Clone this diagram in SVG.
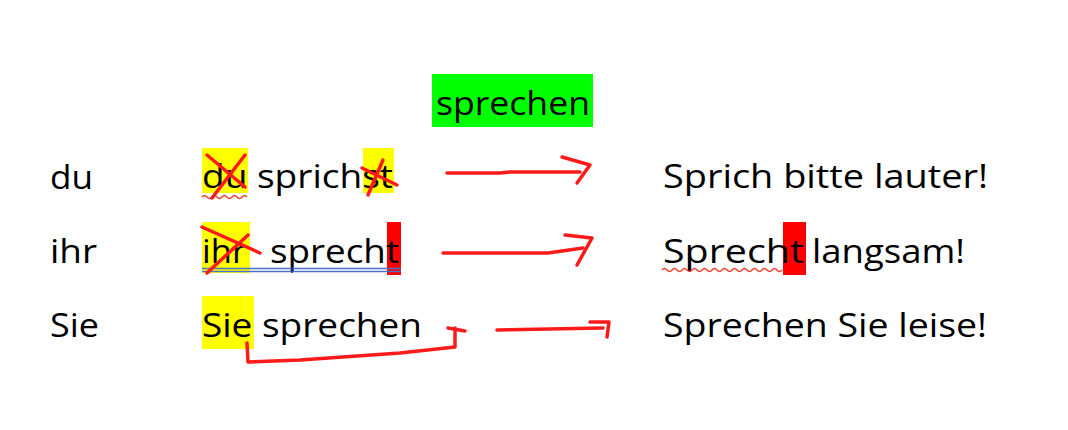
<svg xmlns="http://www.w3.org/2000/svg" width="1068" height="430" viewBox="0 0 1068 430">
<style>
.t{font-family:"Open Sans","Noto Sans",sans-serif;font-size:33px;fill:#000}
.ink{fill:none;stroke:#ff1a1a;stroke-width:3.5;stroke-linecap:round;stroke-linejoin:round}
.wave{fill:none;stroke:#e8402a;stroke-width:1.4}
.ul{stroke:#4a72c8;stroke-width:1.6}
</style>
<rect width="1068" height="430" fill="#fff"/>
<g id="title">
<rect x="432" y="74" width="161" height="53" fill="#00ff00"/>
<text class="t" x="436" y="115" textLength="154" lengthAdjust="spacingAndGlyphs">sprechen</text>
</g>
<g id="pronouns">
<text class="t" x="50" y="189" textLength="43" lengthAdjust="spacingAndGlyphs">du</text>
<text class="t" x="50" y="263" textLength="47" lengthAdjust="spacingAndGlyphs">ihr</text>
<text class="t" x="50" y="337" textLength="49" lengthAdjust="spacingAndGlyphs">Sie</text>
</g>
<g id="row-du">
<rect x="202" y="148" width="46" height="45" fill="#ffff00"/>
<rect x="363" y="148" width="31" height="45" fill="#ffff00"/>
<text class="t" x="202" y="188" textLength="191" lengthAdjust="spacingAndGlyphs">du sprichst</text>
<path class="wave" d="M202,197 q2.5,-3 5,0 t5,0 t5,0 t5,0 t5,0 t5,0 t5,0 t5,0 t5,0"/>
<path class="ink" d="M207,155 L245,187 M245,155 L212,198"/>
<path class="ink" d="M362,168 L397,185 M383,160 L368,195"/>
</g>
<g id="row-ihr">
<rect x="202" y="222" width="48" height="51" fill="#ffff00"/>
<rect x="387" y="222" width="14" height="53" fill="#ff0000"/>
<text class="t" y="263"><tspan x="202" textLength="44" lengthAdjust="spacingAndGlyphs">ihr</tspan><tspan x="270" textLength="129" lengthAdjust="spacingAndGlyphs">sprecht</tspan></text>
<line class="ul" x1="202" y1="268.5" x2="401" y2="268.5"/>
<line class="ul" x1="202" y1="271.5" x2="401" y2="271.5"/>
<line x1="292" y1="267" x2="292" y2="273" stroke="#1a2a80" stroke-width="1.5"/>
<path class="ink" d="M202,227 L260,253 M248,235 L207,273"/>
</g>
<g id="row-Sie">
<rect x="202" y="296" width="52" height="53" fill="#ffff00"/>
<text class="t" x="202" y="337" textLength="220" lengthAdjust="spacingAndGlyphs">Sie sprechen</text>
</g>
<g id="imperatives">
<text class="t" x="663" y="188" textLength="325" lengthAdjust="spacingAndGlyphs">Sprich bitte lauter!</text>
<rect x="783" y="222" width="23" height="53" fill="#ff0000"/>
<text class="t" y="263"><tspan x="663" textLength="141" lengthAdjust="spacingAndGlyphs">Sprecht</tspan><tspan x="812" textLength="153" lengthAdjust="spacingAndGlyphs">langsam!</tspan></text>
<path class="wave" stroke="#e03030" d="M662,270 q2.5,-3 5,0 t5,0 t5,0 t5,0 t5,0 t5,0 t5,0 t5,0 t5,0 t5,0 t5,0 t5,0 t5,0 t5,0 t5,0 t5,0 t5,0 t5,0 t5,0 t5,0 t5,0 t5,0 t5,0 t5,0"/>
<text class="t" x="663" y="337" textLength="324" lengthAdjust="spacingAndGlyphs">Sprechen Sie leise!</text>
</g>
<g id="connectors">
<path class="ink" d="M447,173 L500,173 L510,172 L580,172"/>
<path class="ink" d="M562,157 L590,165 L577,183"/>
<path class="ink" d="M443,253 L548,253 L583,248"/>
<path class="ink" d="M565,235 L592,238 L577,265"/>
<path class="ink" d="M497,330 L603,328"/>
<path class="ink" d="M590,322 L609,322 L607,337"/>
<path class="ink" d="M247,343 L248,362 L300,360 L400,353 L455,347 L455,328"/>
<path class="ink" d="M448,328 L465,331"/>
</g>
</svg>
